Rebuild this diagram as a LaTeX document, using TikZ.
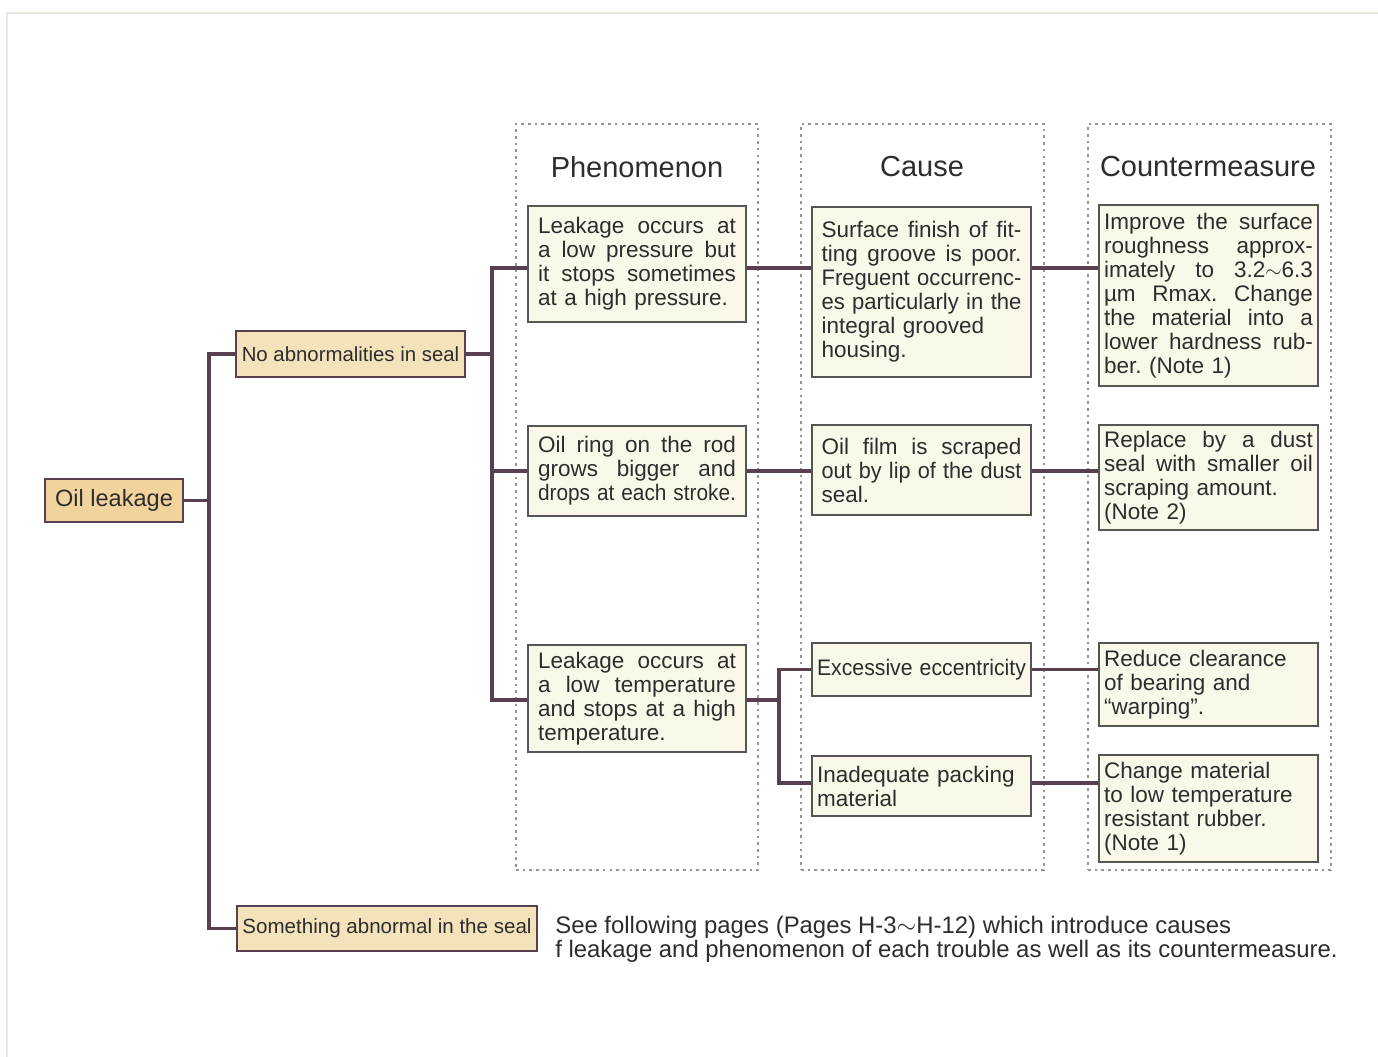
\documentclass[tikz,border=0pt]{standalone}
\usepackage{graphicx}
\usepackage{fontspec}
\setmainfont{Liberation Sans}
\definecolor{connc}{RGB}{88,64,80}
\definecolor{boxc}{RGB}{85,85,85}
\definecolor{cream}{RGB}{250,248,232}
\definecolor{tanA}{RGB}{241,211,158}
\definecolor{tanB}{RGB}{243,226,186}
\definecolor{txtc}{RGB}{45,45,45}
\definecolor{dotc}{RGB}{150,150,140}
\definecolor{pagec}{RGB}{232,232,222}
\newsavebox{\jlbox}
\newcommand{\jl}[2]{\leavevmode\sbox{\jlbox}{#2}\ifdim\wd\jlbox>#1\relax\resizebox{#1}{\height}{#2}\else\hbox to #1{\spaceskip=\fontdimen2\font plus 1fil\relax #2}\fi}
\newcommand{\jp}[1]{\jl{3.96cm}{#1}}
\newcommand{\jc}[1]{\jl{4.0cm}{#1}}
\newcommand{\jm}[1]{\jl{4.18cm}{#1}}
\begin{document}
\frenchspacing
\begin{tikzpicture}[x=0.02cm,y=-0.02cm,
  conn/.style={draw=connc, line width=2.1pt},
  colframe/.style={draw=dotc, line width=1.1pt, dash pattern=on 1.5pt off 2.3pt, minimum width=#1, minimum height=14.92cm, inner sep=0pt},
  hdr/.style={font=\fontsize{16.5}{18}\selectfont, text=txtc},
  cbox/.style={draw=boxc, fill=cream, line width=1.2pt, align=left, font=\fontsize{12.8}{13.66}\selectfont, text=txtc, inner ysep=0pt},
  pbox/.style={cbox, text width=3.96cm, inner xsep=0.2cm},
  qbox/.style={cbox, text width=4.0cm, inner xsep=0.19cm},
  mbox/.style={cbox, text width=4.18cm, inner xsep=0.1cm},
  tbox/.style={draw=connc, line width=1.3pt, text=txtc, inner sep=0pt}]
\useasboundingbox (0,0) rectangle (1378,1057);
\fill[white] (0,0) rectangle (1378,1057);
% faint page edge
\draw[pagec, line width=1.5pt] (7,1057) -- (7,13) -- (1378,13);

% column frames
\node[colframe=4.84cm] (colP) at (637,497) {};
\node[colframe=4.86cm] (colC) at (922.5,497) {};
\node[colframe=4.86cm] (colM) at (1209.5,497) {};

% headers
\node[hdr] (hP) at (637,167) {Phenomenon};
\node[hdr] (hC) at (922,167) {Cause};
\node[hdr] (hM) at (1208,167) {Countermeasure};

% left tree boxes
\node[tbox, fill=tanA, minimum width=2.76cm, minimum height=0.86cm, font=\fontsize{13.4}{15}\selectfont] (ol) at (114,500.5) {Oil leakage};
\node[tbox, fill=tanB, minimum width=4.58cm, minimum height=0.92cm, font=\fontsize{11.6}{14}\selectfont] (na) at (350.5,354) {No abnormalities in seal};
\node[tbox, fill=tanB, minimum width=6.0cm, minimum height=0.9cm, font=\fontsize{11.7}{14}\selectfont] (sa) at (387,928.5) {Something abnormal in the seal};

% phenomenon boxes
\node[pbox, minimum height=2.32cm] (p1) at (637,264) {\jp{Leakage occurs at}\\ \jp{a low pressure but}\\ \jp{it stops sometimes}\\ at a high pressure.};
\node[pbox, minimum height=1.8cm] (p2) at (637,471) {\jp{Oil ring on the rod}\\ \jp{grows bigger and}\\ \jp{drops at each stroke.}};
\node[pbox, minimum height=2.14cm] (p3) at (637,698.5) {\jp{Leakage occurs at}\\ \jp{a low temperature}\\ \jp{and stops at a high}\\ temperature.};

% cause boxes
\node[qbox, minimum height=3.4cm] (c1) at (921.5,292) {\jc{Surface finish of fit-}\\ \jc{ting groove is poor.}\\ \jc{Freguent occurrenc-}\\ \jc{es particularly in the}\\ integral grooved\\ housing.};
\node[qbox, minimum height=1.8cm] (c2) at (921.5,470) {\jc{Oil film is scraped}\\ \jc{out by lip of the dust}\\ seal.};
\node[qbox, text width=4.18cm, inner xsep=0.1cm, minimum height=1.06cm] (c3) at (921.5,669.5) {\jm{Excessive eccentricity}};
\node[qbox, text width=4.18cm, inner xsep=0.1cm, minimum height=1.2cm] (c4) at (921.5,786) {Inadequate packing\\ material};

% countermeasure boxes
\node[mbox, minimum height=3.62cm] (m1) at (1208.5,295.5) {\jm{Improve the surface}\\ \jm{roughness approx-}\\ \jm{imately to 3.2$\sim$6.3}\\ \jm{µm Rmax. Change}\\ \jm{the material into a}\\ \jm{lower hardness rub-}\\ ber. (Note 1)};
\node[mbox, minimum height=2.1cm] (m2) at (1208.5,477.5) {\jm{Replace by a dust}\\ \jm{seal with smaller oil}\\ scraping amount.\\ (Note 2)};
\node[mbox, minimum height=1.66cm] (m3) at (1208.5,684.5) {Reduce clearance\\ of bearing and\\ ``warping''.};
\node[mbox, minimum height=2.14cm] (m4) at (1208.5,808.5) {Change material\\ to low temperature\\ resistant rubber.\\ (Note 1)};

% footnote text
\node[anchor=west, align=left, inner sep=0pt, text=txtc, font=\fontsize{13.6}{13.66}\selectfont] (fn) at (555,939.5) {See following pages (Pages H-3$\sim$H-12) which introduce causes\\ f leakage and phenomenon of each trouble as well as its countermeasure.};

% junction coordinates
\coordinate (j1) at (209,500.5);
\coordinate (j2) at (492,354);
\coordinate (j3) at (779,700);
\coordinate (r1) at (0,268);
\coordinate (r2) at (0,471);
\coordinate (r3) at (0,700);
\coordinate (r4) at (0,783);

% connectors
\draw[conn] (ol.east) -- (j1);
\draw[conn] (na.west) -- (na.west -| j1) -- (sa.west -| j1) -- (sa.west);
\draw[conn] (na.east) -- (j2);
\draw[conn] (p1.west |- r1) -- (j2 |- r1) -- (j2 |- r3) -- (p3.west |- r3);
\draw[conn] (j2 |- r2) -- (p2.west |- r2);
\draw[conn] (p1.east |- r1) -- (c1.west |- r1);
\draw[conn] (c1.east |- r1) -- (m1.west |- r1);
\draw[conn] (p2.east |- r2) -- (c2.west |- r2);
\draw[conn] (c2.east |- r2) -- (m2.west |- r2);
\draw[conn] (p3.east |- r3) -- (j3);
\draw[conn] (c3.west) -- (c3.west -| j3) -- (j3 |- r4) -- (c4.west |- r4);
\draw[conn] (c3.east) -- (m3.west |- c3.east);
\draw[conn] (c4.east |- r4) -- (m4.west |- r4);
\end{tikzpicture}
\end{document}
